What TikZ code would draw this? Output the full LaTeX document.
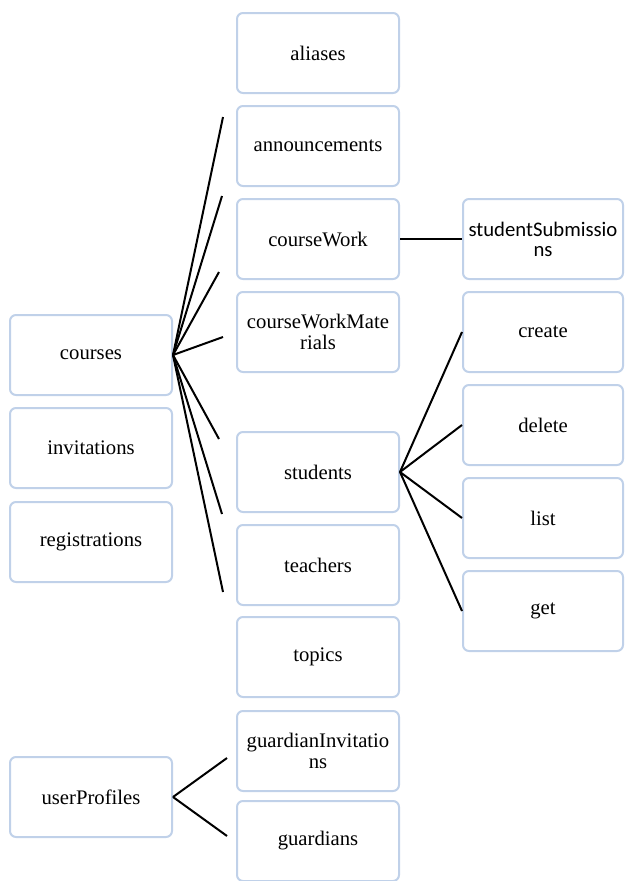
\documentclass[tikz,border=0pt]{standalone}
\usepackage{fontspec}
\setmainfont{Liberation Serif}
\newfontfamily\calibrifont{Carlito}
\definecolor{boxline}{RGB}{192,209,233}
\begin{document}
\begin{tikzpicture}[x=1pt,y=-1pt,
  box/.style={draw=boxline, line width=2pt, rounded corners=6pt, fill=white,
    minimum width=162pt, minimum height=80pt, inner sep=0pt, align=center,
    font=\rmfamily\fontsize{20.7}{21}\selectfont},
  rbox/.style={box, minimum width=160pt},
  conn/.style={draw=black, line width=2pt}]
\useasboundingbox (0,0) rectangle (624,881);
% left column
\node[box] (courses) at (91,355) {courses};
\node[box] (invitations) at (91,448) {invitations};
\node[box] (registrations) at (91,542) {registrations};
\node[box] (userProfiles) at (91,797) {userProfiles};
% middle column
\node[box] (aliases) at (318,53) {aliases};
\node[box] (announcements) at (318,146) {announcements};
\node[box] (courseWork) at (318,239) {courseWork};
\node[box] (courseWorkMaterials) at (318,332) {courseWorkMate\\rials};
\node[box] (students) at (318,472) {students};
\node[box] (teachers) at (318,565) {teachers};
\node[box] (topics) at (318,657) {topics};
\node[box] (guardianInvitations) at (318,751) {guardianInvitatio\\ns};
\node[box] (guardians) at (318,841) {guardians};
% right column
\node[rbox, font=\calibrifont\fontsize{20.7}{20}\selectfont] (studentSubmissions) at (543,239) {studentSubmissio\\ns};
\node[rbox] (create) at (543,332) {create};
\node[rbox] (delete) at (543,425) {delete};
\node[rbox] (list) at (543,518) {list};
\node[rbox] (get) at (543,611) {get};
% free ends
\coordinate (c1) at (223,117);
\coordinate (c2) at (222,196);
\coordinate (c3) at (219,272);
\coordinate (c4) at (223,337);
\coordinate (c5) at (219,439);
\coordinate (c6) at (222,514);
\coordinate (c7) at (223,592);
\coordinate (u1) at (227,758);
\coordinate (u2) at (227,836);
% connectors
\foreach \e in {c1,c2,c3,c4,c5,c6,c7} \draw[conn] (courses.east) -- (\e);
\draw[conn] (courseWork.east) -- (studentSubmissions.west);
\foreach \e in {create,delete,list,get} \draw[conn] (students.east) -- (\e.west);
\draw[conn] (userProfiles.east) -- (u1);
\draw[conn] (userProfiles.east) -- (u2);
\end{tikzpicture}
\end{document}
